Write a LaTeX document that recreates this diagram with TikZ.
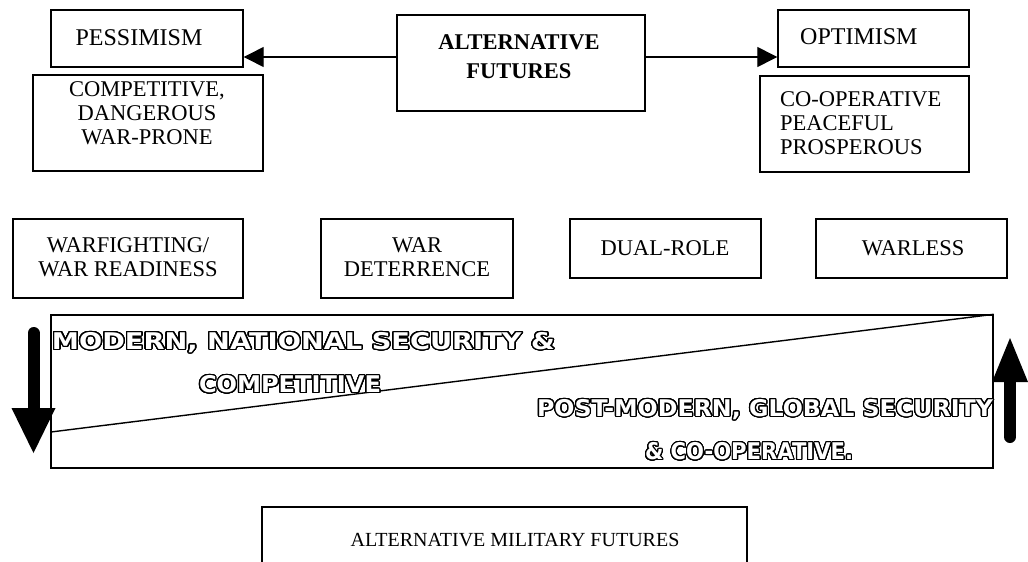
\documentclass[tikz,border=0pt]{standalone}
\usepackage{fontspec}
\setmainfont{Liberation Serif}
\newfontfamily\outfont{DejaVu Sans}
\usepackage{contour}
\contourlength{1.2pt}
\contournumber{32}
\usetikzlibrary{arrows.meta}
\newcommand{\outtxt}[2]{\resizebox{#1}{\height}{\outfont\bfseries\fontsize{23}{23}\selectfont\contour{black}{\textcolor{white}{#2}}}}
\tikzset{
  box/.style={draw, line width=1.4pt, inner sep=0pt, fill=white},
  lbl/.style={inner sep=0pt, font=\fontsize{22.5}{24}\selectfont, align=center},
  biglbl/.style={inner sep=0pt, font=\fontsize{24}{26}\selectfont},
  boldlbl/.style={inner sep=0pt, font=\fontsize{22.5}{29}\selectfont\bfseries, align=center},
  outlbl/.style={inner sep=0pt},
  conn/.style={line width=1.3pt, -{Triangle[length=20pt,width=20pt]}},
  thickarrow/.style={line width=12pt, line cap=round},
}
\begin{document}
\begin{tikzpicture}[x=1pt,y=-1pt]
\clip (0,0) rectangle (1028,562);
\fill[white] (0,0) rectangle (1028,562);
% top boxes
\node[box, minimum width=192pt, minimum height=57pt] (pess) at (147,38.5) {};
\node[biglbl] (pesst) at (139,38) {PESSIMISM};
\node[box, minimum width=230pt, minimum height=96pt] (comp) at (148,123) {};
\node[lbl] (compt) at (147,113) {COMPETITIVE,\\DANGEROUS\\WAR-PRONE};
\node[box, minimum width=248pt, minimum height=96pt] (alt) at (521,63) {};
\node[boldlbl] (altt) at (519,57) {ALTERNATIVE\\FUTURES};
\node[box, minimum width=191pt, minimum height=57pt] (opt) at (873.5,38.5) {};
\node[biglbl, anchor=west] (optt) at (800,37) {OPTIMISM};
\node[box, minimum width=209pt, minimum height=96pt] (coop) at (864.5,124) {};
\node[lbl, align=left, anchor=west] (coopt) at (780,123) {CO-OPERATIVE\\PEACEFUL\\PROSPEROUS};
% connectors
\coordinate (ay) at (0,57);
\draw[conn] (alt.west |- ay) -- (pess.east |- ay);
\draw[conn] (alt.east |- ay) -- (opt.west |- ay);
% middle row
\node[box, minimum width=230pt, minimum height=79pt] (wf) at (128,258.5) {};
\node[lbl] (wft) at (128,257) {WARFIGHTING/\\WAR READINESS};
\node[box, minimum width=192pt, minimum height=79pt] (wd) at (417,258.5) {};
\node[lbl] (wdt) at (417,257) {WAR\\DETERRENCE};
\node[box, minimum width=191pt, minimum height=59pt] (dr) at (665.5,248.5) {};
\node[lbl] (drt) at (665,248) {DUAL-ROLE};
\node[box, minimum width=191pt, minimum height=59pt] (wl) at (911.5,248.5) {};
\node[lbl] (wlt) at (913,248) {WARLESS};
% big box
\node[box, minimum width=942pt, minimum height=153pt] (bigbox) at (522,391.5) {};
\coordinate (dl) at (51,432);
\draw[line width=1.4pt] (dl) -- (bigbox.north east);
\node[outlbl] (t1) at (303.5,343) {\outtxt{503pt}{MODERN, NATIONAL SECURITY \&}};
\node[outlbl] (t2) at (290,385) {\outtxt{182pt}{COMPETITIVE}};
\node[outlbl] (t3) at (765,410) {\outtxt{456pt}{POST-MODERN, GLOBAL SECURITY}};
\node[outlbl] (t4) at (749,452) {\outtxt{208pt}{\& CO-OPERATIVE.}};
% thick arrows
\coordinate (da1) at (33.5,333);
\coordinate (da2) at (33.5,410);
\draw[thickarrow] (da1) -- (da2);
\fill (11.5,408) -- (55.5,408) -- (33.5,453) -- cycle;
\coordinate (ua1) at (1010,437);
\coordinate (ua2) at (1010,380);
\draw[thickarrow] (ua1) -- (ua2);
\fill (992,382) -- (1028,382) -- (1010,338) -- cycle;
% bottom box
\node[box, minimum width=485pt, minimum height=100pt] (amf) at (504.5,557) {};
\node[lbl, font=\fontsize{20}{22}\selectfont] (amft) at (515,540) {ALTERNATIVE MILITARY FUTURES};
\end{tikzpicture}
\end{document}
